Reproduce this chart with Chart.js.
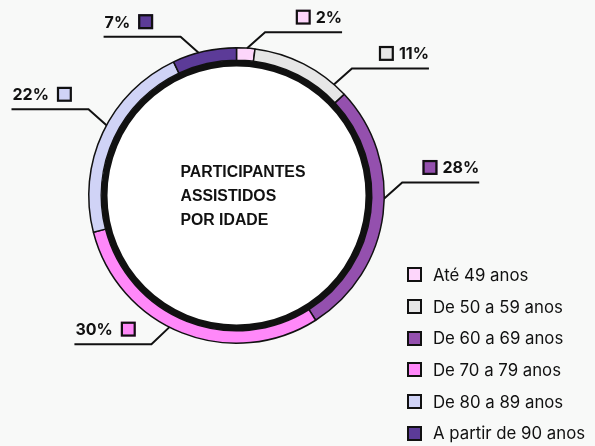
<!DOCTYPE html>
<html>
<head>
<meta charset="utf-8">
<script src="https://cdn.jsdelivr.net/npm/chart.js@4.4.1/dist/chart.umd.min.js"></script>
<style>
  html, body { margin: 0; padding: 0; background: #f8f9f8; }
  #wrap { position: relative; width: 595px; height: 446px; }
  #legend { position: absolute; left: 407px; top: 259px; font-family: Inter, sans-serif; font-size: 16.8px; color: #111; }
  .item { display: flex; align-items: center; height: 31.7px; white-space: nowrap; }
  .box { width: 11px; height: 11px; border: 2px solid #111; margin-right: 11px; flex: none; }
</style>
</head>
<body>
<div id="wrap">
  <canvas id="ageChart" width="595" height="446"></canvas>
  <div id="legend"></div>
</div>
<script>
const categories = ['Até 49 anos', 'De 50 a 59 anos', 'De 60 a 69 anos', 'De 70 a 79 anos', 'De 80 a 89 anos', 'A partir de 90 anos'];
const shares = [2, 11, 28, 30, 22, 7];
const colors = ['#fdd6fb', '#e6e6e6', '#9450ae', '#ff88f9', '#d0d3f6', '#5c3b98'];
const titleLines = ['PARTICIPANTES', 'ASSISTIDOS', 'POR IDADE'];

// where each leader line leaves its slice (fraction of the arc), and which way it goes
const leaders = [
    { at: 0.57, side: 1, up: true },
    { at: 0.86, side: 1, up: true },
    { at: 0.44, side: 1, up: true },
    { at: 0.55, side: -1, up: false },
    { at: 0.54, side: -1, up: true },
    { at: 0.41, side: -1, up: true }
];

const INK = '#111';

// white disc inside the ring + title text
const centerPlugin = {
    id: 'center',
    beforeDatasetsDraw(chart) {
        const meta = chart.getDatasetMeta(1);
        const arc = meta.data[0];
        const ctx = chart.ctx;
        ctx.save();
        ctx.fillStyle = '#ffffff';
        ctx.beginPath();
        ctx.arc(arc.x, arc.y, meta.controller.innerRadius + 0.5, 0, Math.PI * 2);
        ctx.fill();
        ctx.restore();
    },
    afterDatasetsDraw(chart) {
        const arc = chart.getDatasetMeta(1).data[0];
        const ctx = chart.ctx;
        ctx.save();
        ctx.fillStyle = INK;
        ctx.font = 'bold 15.8px "Liberation Sans", Arial, sans-serif';
        ctx.textAlign = 'left';
        ctx.textBaseline = 'middle';
        titleLines.forEach((line, i) => {
            ctx.fillText(line, arc.x - 56, arc.y - 23 + i * 24);
        });
        ctx.restore();
    }
};

// percentage callouts with elbow lines
const calloutPlugin = {
    id: 'callouts',
    afterDatasetsDraw(chart) {
        const meta = chart.getDatasetMeta(0);
        const ctx = chart.ctx;
        ctx.save();
        meta.data.forEach((arc, i) => {
            const lay = leaders[i];
            const a = arc.startAngle + (arc.endAngle - arc.startAngle) * lay.at;
            const x0 = arc.x + arc.outerRadius * Math.cos(a);
            const y0 = arc.y + arc.outerRadius * Math.sin(a);
            const x1 = x0 + 18 * lay.side;
            const y1 = y0 + (lay.up ? -16 : 17);
            const x2 = x1 + 77 * lay.side;

            ctx.strokeStyle = INK;
            ctx.lineWidth = 2;
            ctx.beginPath();
            ctx.moveTo(x0, y0);
            ctx.lineTo(x1, y1);
            ctx.lineTo(x2, y1);
            ctx.stroke();

            const text = shares[i] + '%';
            ctx.font = 'bold 16px Inter, sans-serif';
            ctx.textBaseline = 'middle';
            const tw = ctx.measureText(text).width;
            const ty = y1 - 15;
            let boxX, textX;
            if (lay.side > 0) {
                textX = x2 - tw;
                boxX = textX - 5 - 15;
            } else {
                textX = x2 + 1;
                boxX = textX + tw + 8;
            }
            ctx.fillStyle = INK;
            ctx.textAlign = 'left';
            ctx.fillText(text, textX, ty + 1);
            ctx.fillStyle = colors[i];
            ctx.fillRect(boxX, ty - 7.5, 15, 15);
            ctx.lineWidth = 2.2;
            ctx.strokeRect(boxX + 1.1, ty - 6.4, 12.8, 12.8);
        });
        ctx.restore();
    }
};

const ctx = document.getElementById('ageChart').getContext('2d');
new Chart(ctx, {
    type: 'doughnut',
    data: {
        labels: categories,
        datasets: [
            {
                data: shares,
                backgroundColor: colors,
                borderColor: INK,
                borderWidth: 1.5,
                weight: 2
            },
            {
                data: [100],
                backgroundColor: [INK],
                borderWidth: 0,
                weight: 1
            }
        ]
    },
    options: {
        responsive: false,
        animation: false,
        cutout: '87.3%',
        layout: { padding: { left: 88, right: 210, top: 47, bottom: 102 } },
        plugins: {
            legend: { display: false },
            tooltip: { enabled: false }
        },
        events: []
    },
    plugins: [centerPlugin, calloutPlugin]
});

// legend built from the same arrays
const legendEl = document.getElementById('legend');
categories.forEach((name, i) => {
    const row = document.createElement('div');
    row.className = 'item';
    const box = document.createElement('span');
    box.className = 'box';
    box.style.background = colors[i];
    const label = document.createElement('span');
    label.textContent = name;
    row.appendChild(box);
    row.appendChild(label);
    legendEl.appendChild(row);
});
</script>
</body>
</html>
